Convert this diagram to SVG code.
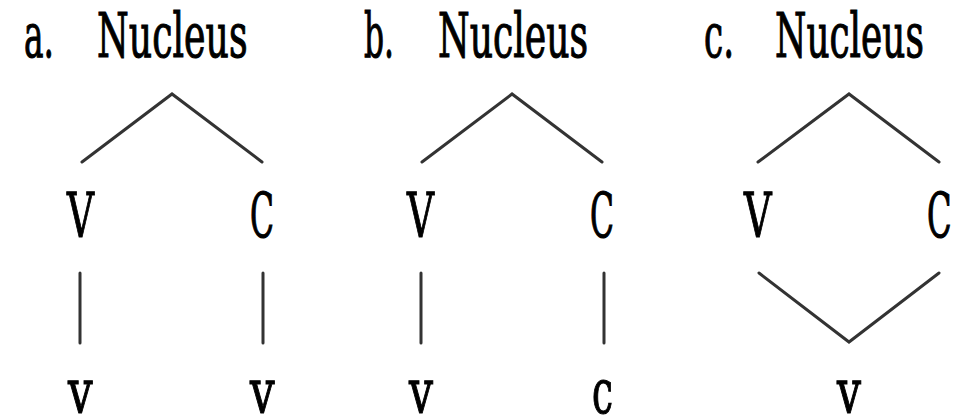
<svg xmlns="http://www.w3.org/2000/svg" width="966" height="415" viewBox="0 0 966 415">
<style>
text{font-family:"DejaVu Serif","Liberation Serif",serif;font-size:62px;fill:#000;stroke:#000;stroke-width:1.2px}
.ln{stroke:#333;stroke-width:3;fill:none;stroke-linecap:round;stroke-linejoin:miter}
</style>
<rect width="966" height="415" fill="#fff"/>
<g id="titles">
<text transform="translate(24,57) scale(0.6,1)" textLength="50" lengthAdjust="spacingAndGlyphs">a.</text>
<text transform="translate(97,57) scale(0.6,1)" textLength="251" lengthAdjust="spacingAndGlyphs">Nucleus</text>
<text transform="translate(364,57) scale(0.6,1)" textLength="50" lengthAdjust="spacingAndGlyphs">b.</text>
<text transform="translate(438,57) scale(0.6,1)" textLength="250" lengthAdjust="spacingAndGlyphs">Nucleus</text>
<text transform="translate(704,57) scale(0.6,1)" textLength="50" lengthAdjust="spacingAndGlyphs">c.</text>
<text transform="translate(775,57) scale(0.6,1)" textLength="248" lengthAdjust="spacingAndGlyphs">Nucleus</text>
</g>
<g id="node-a-V"><text transform="translate(67,237) scale(0.6,1)" textLength="45" lengthAdjust="spacingAndGlyphs">V</text></g>
<g id="node-a-C"><text transform="translate(250,237) scale(0.6,1)" textLength="40" lengthAdjust="spacingAndGlyphs">C</text></g>
<g id="node-a-v1"><text transform="translate(68,413) scale(0.6,1)" textLength="41" lengthAdjust="spacingAndGlyphs">v</text></g>
<g id="node-a-v2"><text transform="translate(250,413) scale(0.6,1)" textLength="41" lengthAdjust="spacingAndGlyphs">v</text></g>
<g id="node-b-V"><text transform="translate(407,237) scale(0.6,1)" textLength="45" lengthAdjust="spacingAndGlyphs">V</text></g>
<g id="node-b-C"><text transform="translate(590,237) scale(0.6,1)" textLength="40" lengthAdjust="spacingAndGlyphs">C</text></g>
<g id="node-b-v"><text transform="translate(409,413) scale(0.6,1)" textLength="40" lengthAdjust="spacingAndGlyphs">v</text></g>
<g id="node-b-c"><text transform="translate(592,413) scale(0.6,1)" textLength="35" lengthAdjust="spacingAndGlyphs">c</text></g>
<g id="node-c-V"><text transform="translate(744,237) scale(0.6,1)" textLength="46" lengthAdjust="spacingAndGlyphs">V</text></g>
<g id="node-c-C"><text transform="translate(927,237) scale(0.6,1)" textLength="41" lengthAdjust="spacingAndGlyphs">C</text></g>
<g id="node-c-v"><text transform="translate(837,413) scale(0.6,1)" textLength="40" lengthAdjust="spacingAndGlyphs">v</text></g>
<g id="connectors">
<polyline class="ln" points="82,162 172,94 262,162"/>
<line class="ln" x1="80" y1="273" x2="80" y2="343"/>
<line class="ln" x1="263" y1="273" x2="263" y2="343"/>
<polyline class="ln" points="422,162 512,94 602,162"/>
<line class="ln" x1="421" y1="273" x2="421" y2="343"/>
<line class="ln" x1="604" y1="273" x2="604" y2="343"/>
<polyline class="ln" points="758,162 849,94 939,162"/>
<polyline class="ln" points="759,273 849,342 939,273"/>
</g>
</svg>
